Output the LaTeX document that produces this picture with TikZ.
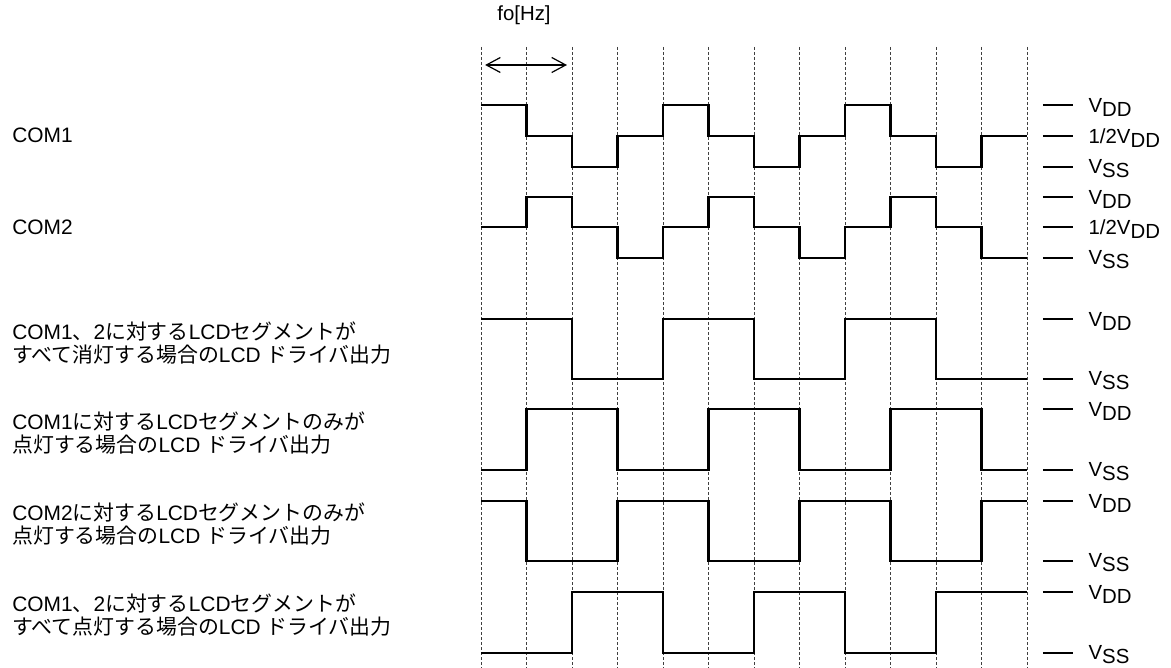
\documentclass[tikz,border=0pt]{standalone}
\usepackage{fontspec}
\setmainfont{Liberation Sans}
\newfontfamily\jp{Noto Sans CJK JP}
\usepackage{tikz}
\usetikzlibrary{arrows.meta}

\newcommand{\lvdd}{V\raisebox{-2pt}{DD}}
\newcommand{\lvss}{V\raisebox{-2pt}{SS}}
\newcommand{\lhalf}{1/2V\raisebox{-2pt}{DD}}

\tikzset{
  wave/.style={line width=1.4pt},
  guide/.style={black!75, line width=0.5pt, dash pattern=on 1.5pt off 1pt},
  lvlmark/.style={line width=0.6pt},
  lvltext/.style={anchor=west, inner sep=0pt, xshift=7.5pt, yshift=-1pt, font=\fontsize{10.2pt}{12pt}\selectfont},
  rowlabel/.style={anchor=west, align=left, inner sep=0pt, font=\fontsize{10.45pt}{11.8pt}\selectfont}
}

\begin{document}
\begin{tikzpicture}[x=22.75pt, y=-0.5pt]
  \useasboundingbox (-10.5714,0) rectangle (15.1648,668);

  % Dashed time grid
  \draw[guide] (0,47) -- (0,668) (1,47) -- (1,668) (2,47) -- (2,668)
    (3,47) -- (3,668) (4,47) -- (4,668) (5,47) -- (5,668) (6,47) -- (6,668)
    (7,47) -- (7,668) (8,47) -- (8,668) (9,47) -- (9,668) (10,47) -- (10,668)
    (11,47) -- (11,668) (12,47) -- (12,668);

  % Frame period
  \node[font=\fontsize{10.2pt}{12pt}\selectfont] (freq) at (0.945,15) {fo[Hz]};
  \coordinate (pa) at (0.09,65);
  \coordinate (pb) at (1.89,65);
  \draw[lvlmark, {Straight Barb[length=7pt,width=7.5pt]}-{Straight Barb[length=7pt,width=7.5pt]}] (pa) -- (pb);

  % COM1
  \node[rowlabel] (com1) at (-10.31,135) {COM1};
  \draw[wave] (0,105) -- (1,105) -- (1,136) -- (2,136) -- (2,167) -- (3,167)
    -- (3,136) -- (4,136) -- (4,105) -- (5,105) -- (5,136) -- (6,136)
    -- (6,167) -- (7,167) -- (7,136) -- (8,136) -- (8,105) -- (9,105)
    -- (9,136) -- (10,136) -- (10,167) -- (11,167) -- (11,136) -- (12,136);
  \draw[lvlmark] (12.35,105) -- (13.01,105) node[lvltext] (c1h) {\lvdd};
  \draw[lvlmark] (12.35,136) -- (13.01,136) node[lvltext] (c1m) {\lhalf};
  \draw[lvlmark] (12.35,167) -- (13.01,167) node[lvltext] (c1l) {\lvss};

  % COM2
  \node[rowlabel] (com2) at (-10.31,227) {COM2};
  \draw[wave] (0,227) -- (1,227) -- (1,197) -- (2,197) -- (2,227) -- (3,227)
    -- (3,258) -- (4,258) -- (4,227) -- (5,227) -- (5,197) -- (6,197)
    -- (6,227) -- (7,227) -- (7,258) -- (8,258) -- (8,227) -- (9,227)
    -- (9,197) -- (10,197) -- (10,227) -- (11,227) -- (11,258) -- (12,258);
  \draw[lvlmark] (12.35,197) -- (13.01,197) node[lvltext] (c2h) {\lvdd};
  \draw[lvlmark] (12.35,227) -- (13.01,227) node[lvltext] (c2m) {\lhalf};
  \draw[lvlmark] (12.35,258) -- (13.01,258) node[lvltext] (c2l) {\lvss};

  % Segment output, all segments off
  \node[rowlabel] (segoff) at (-10.31,343)
    {COM1{\jp 、}2{\jp に対する}LCD{\jp セグメントが}\\{\jp すべて消灯する場合の}LCD {\jp ドライバ出力}};
  \draw[wave] (0,319) -- (2,319) -- (2,379) -- (4,379) -- (4,319) -- (6,319)
    -- (6,379) -- (8,379) -- (8,319) -- (10,319) -- (10,379) -- (12,379);
  \draw[lvlmark] (12.35,319) -- (13.01,319) node[lvltext] (s0h) {\lvdd};
  \draw[lvlmark] (12.35,379) -- (13.01,379) node[lvltext] (s0l) {\lvss};

  % Segment output, COM1 segment on
  \node[rowlabel] (segone) at (-10.31,433)
    {COM1{\jp に対する}LCD{\jp セグメントのみが}\\{\jp 点灯する場合の}LCD {\jp ドライバ出力}};
  \draw[wave] (0,470) -- (1,470) -- (1,409) -- (3,409) -- (3,470) -- (5,470)
    -- (5,409) -- (7,409) -- (7,470) -- (9,470) -- (9,409) -- (11,409)
    -- (11,470) -- (12,470);
  \draw[lvlmark] (12.35,409) -- (13.01,409) node[lvltext] (s1h) {\lvdd};
  \draw[lvlmark] (12.35,470) -- (13.01,470) node[lvltext] (s1l) {\lvss};

  % Segment output, COM2 segment on
  \node[rowlabel] (segtwo) at (-10.31,524)
    {COM2{\jp に対する}LCD{\jp セグメントのみが}\\{\jp 点灯する場合の}LCD {\jp ドライバ出力}};
  \draw[wave] (0,501) -- (1,501) -- (1,561) -- (3,561) -- (3,501) -- (5,501)
    -- (5,561) -- (7,561) -- (7,501) -- (9,501) -- (9,561) -- (11,561)
    -- (11,501) -- (12,501);
  \draw[lvlmark] (12.35,501) -- (13.01,501) node[lvltext] (s2h) {\lvdd};
  \draw[lvlmark] (12.35,561) -- (13.01,561) node[lvltext] (s2l) {\lvss};

  % Segment output, all segments on
  \node[rowlabel] (segon) at (-10.31,615)
    {COM1{\jp 、}2{\jp に対する}LCD{\jp セグメントが}\\{\jp すべて点灯する場合の}LCD {\jp ドライバ出力}};
  \draw[wave] (0,653) -- (2,653) -- (2,592) -- (4,592) -- (4,653) -- (6,653)
    -- (6,592) -- (8,592) -- (8,653) -- (10,653) -- (10,592) -- (12,592);
  \draw[lvlmark] (12.35,592) -- (13.01,592) node[lvltext] (s3h) {\lvdd};
  \draw[lvlmark] (12.35,653) -- (13.01,653) node[lvltext] (s3l) {\lvss};
\end{tikzpicture}
\end{document}
